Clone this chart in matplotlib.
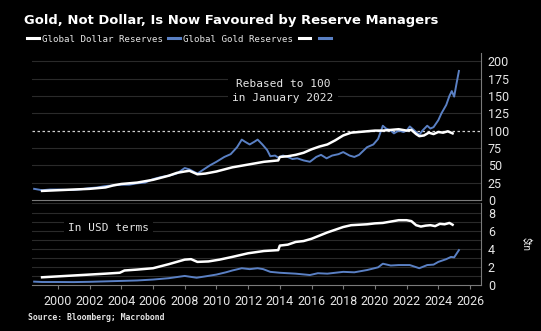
import matplotlib
matplotlib.use("Agg")
import matplotlib.pyplot as plt
from matplotlib.lines import Line2D

# Rebased series (January 2022 = 100)
dollar_idx_years = [1999.0, 1999.5, 2000.0, 2001.0, 2002.0, 2003.0, 2003.5, 2004.0, 2005.0, 2006.0,
                    2007.0, 2007.5, 2008.0, 2008.3, 2008.8, 2009.3, 2010.0, 2010.5, 2011.0, 2011.5,
                    2012.0, 2012.5, 2013.0, 2013.9, 2014.0, 2014.5, 2015.0, 2015.5, 2016.0, 2016.5,
                    2017.0, 2017.5, 2018.0, 2018.5, 2019.0, 2019.5, 2020.0, 2020.5, 2021.0, 2021.5,
                    2022.0, 2022.3, 2022.6, 2022.8, 2023.1, 2023.4, 2023.7, 2024.0, 2024.3, 2024.6,
                    2024.9]
dollar_idx = [13, 13.5, 14, 15, 16, 18, 21, 23, 25, 29,
              35, 39, 41, 42, 37, 38, 41, 44, 47, 49,
              51, 53, 55, 57, 62, 63, 65, 68, 73, 77,
              80, 86, 93, 97, 98, 99, 100, 100, 101, 102,
              100, 101, 95, 92, 93, 97, 95, 98, 97, 99,
              96]

gold_idx_years = [1998.5, 1999.0, 1999.5, 2000.0, 2000.5, 2001.0, 2001.5, 2002.0, 2002.5, 2003.0,
                  2003.5, 2004.0, 2004.5, 2005.0, 2005.5, 2006.0, 2006.5, 2007.0, 2007.5, 2008.0,
                  2008.3, 2008.8, 2009.2, 2009.6, 2010.0, 2010.5, 2010.9, 2011.3, 2011.6, 2011.8,
                  2012.1, 2012.4, 2012.6, 2012.9, 2013.2, 2013.4, 2013.7, 2013.9, 2014.2, 2014.5,
                  2014.8, 2015.1, 2015.5, 2015.9, 2016.3, 2016.6, 2016.95, 2017.3, 2017.7, 2018.0,
                  2018.4, 2018.7, 2019.0, 2019.5, 2019.9, 2020.2, 2020.5, 2020.7, 2021.0, 2021.2,
                  2021.5, 2021.8, 2022.0, 2022.2, 2022.5, 2022.8, 2023.0, 2023.3, 2023.5, 2023.7,
                  2024.0, 2024.2, 2024.5, 2024.7, 2024.85, 2025.0, 2025.15, 2025.3]
gold_idx = [16, 14, 15, 15, 14.5, 14.5, 15.5, 17, 18, 20,
            21, 22, 22, 24, 25, 30, 33, 35, 38, 46,
            44, 38, 44, 50, 55, 62, 66, 76, 87, 84,
            80, 84, 87, 80, 72, 63, 64, 61, 64, 62,
            59, 60, 57, 55, 62, 65, 60, 64, 66, 69,
            64, 62, 65, 76, 80, 88, 107, 103, 100, 96,
            100, 98, 100, 106, 100, 94, 100, 107, 103, 105,
            115, 125, 137, 150, 157, 149, 168, 186]

# Levels in USD trillions
dollar_usd_years = [1999.0, 2000.0, 2001.0, 2002.0, 2003.0, 2003.9, 2004.2, 2005.0, 2006.0, 2007.0,
                    2008.0, 2008.4, 2008.8, 2009.5, 2010.2, 2011.0, 2012.0, 2013.0, 2013.9, 2014.0,
                    2014.5, 2015.0, 2015.5, 2016.0, 2016.5, 2017.0, 2017.5, 2018.0, 2018.5, 2019.0,
                    2019.5, 2020.0, 2020.5, 2021.0, 2021.5, 2022.0, 2022.3, 2022.6, 2022.9, 2023.2,
                    2023.5, 2023.8, 2024.1, 2024.4, 2024.7, 2024.9]
dollar_usd = [0.85, 0.95, 1.05, 1.15, 1.25, 1.35, 1.6, 1.7, 1.85, 2.3,
              2.8, 2.85, 2.55, 2.6, 2.8, 3.1, 3.5, 3.75, 3.85, 4.35,
              4.45, 4.75, 4.85, 5.1, 5.45, 5.8, 6.1, 6.4, 6.6, 6.65,
              6.7, 6.8, 6.85, 7.0, 7.15, 7.15, 7.05, 6.6, 6.45, 6.55,
              6.6, 6.5, 6.75, 6.7, 6.85, 6.65]

gold_usd_years = [1998.5, 1999.0, 2000.0, 2001.0, 2002.0, 2003.0, 2004.0, 2005.0, 2006.0, 2007.0,
                  2008.0, 2008.75, 2009.3, 2010.0, 2010.6, 2011.0, 2011.6, 2012.1, 2012.6, 2012.95,
                  2013.4, 2014.0, 2014.5, 2015.0, 2015.9, 2016.4, 2017.0, 2018.0, 2018.7, 2019.5,
                  2020.2, 2020.5, 2021.0, 2021.5, 2022.2, 2022.8, 2023.3, 2023.7, 2024.0, 2024.5,
                  2024.8, 2025.0, 2025.3]
gold_usd = [0.37, 0.33, 0.33, 0.32, 0.35, 0.4, 0.45, 0.5, 0.6, 0.75,
            1.0, 0.8, 0.95, 1.15, 1.4, 1.6, 1.85, 1.75, 1.85, 1.75,
            1.45, 1.35, 1.3, 1.25, 1.1, 1.3, 1.25, 1.45, 1.4, 1.65,
            1.95, 2.35, 2.15, 2.2, 2.2, 1.85, 2.2, 2.25, 2.55, 2.85,
            3.1, 3.05, 3.85]

x_ticks = list(range(2000, 2027, 2))
idx_ticks = [0, 25, 50, 75, 100, 125, 150, 175, 200]
usd_ticks = [0, 2, 4, 6, 8]

BG = "black"
WHITE = "white"
BLUE = "#5a80c4"
GRID = "#2a2a2a"
SPINE = "#7a7a7a"
TXT = "#e6e6e6"
TICK_FONT = "Roboto"
MONO = "DejaVu Sans Mono"

fig = plt.figure(figsize=(5.41, 3.31), dpi=100, facecolor=BG)

ax1 = fig.add_axes([0.059, 0.396, 0.830, 0.444], facecolor=BG)
ax2 = fig.add_axes([0.059, 0.139, 0.830, 0.248], facecolor=BG)

xlim = (1998.36, 2026.69)

for ax in (ax1, ax2):
    ax.set_xlim(*xlim)
    for side in ("left", "top"):
        ax.spines[side].set_visible(False)
    for side in ("right", "bottom"):
        ax.spines[side].set_color(SPINE)
        ax.spines[side].set_linewidth(0.8)
    ax.yaxis.tick_right()
    ax.tick_params(axis="y", length=0, pad=5, labelcolor=TXT, labelsize=9)
    ax.set_axisbelow(True)

# Upper panel: rebased index
ax1.set_ylim(0, 212)
ax1.set_yticks(idx_ticks)
ax1.set_yticklabels([str(t) for t in idx_ticks], family=TICK_FONT)
ax1.set_xticks([])
for t in idx_ticks[1:]:
    if t != 100:
        ax1.axhline(t, color=GRID, lw=0.8, zorder=0)
ax1.axhline(100, color="#d0d0d0", lw=0.9, ls=(0, (2, 2)), zorder=1)
ax1.plot(gold_idx_years, gold_idx, color=BLUE, lw=1.4, zorder=3)
ax1.plot(dollar_idx_years, dollar_idx, color=WHITE, lw=1.8, zorder=4)
ax1.text(2014.2, 157, "Rebased to 100\nin January 2022", ha="center", va="center",
         color=TXT, fontsize=8, family=MONO, linespacing=1.45,
         bbox=dict(facecolor=BG, edgecolor="none", pad=3))

# Lower panel: USD trillions
ax2.set_ylim(0, 9.06)
ax2.set_yticks(usd_ticks)
ax2.set_yticklabels([str(t) for t in usd_ticks], family=TICK_FONT)
for t in range(1, 10):
    ax2.axhline(t, color=GRID, lw=0.8, zorder=0)
ax2.plot(gold_usd_years, gold_usd, color=BLUE, lw=1.4, zorder=3)
ax2.plot(dollar_usd_years, dollar_usd, color=WHITE, lw=1.8, zorder=4)
ax2.set_xticks(x_ticks)
ax2.set_xticklabels([str(t) for t in x_ticks], family=TICK_FONT)
ax2.tick_params(axis="x", length=3, color=SPINE, labelcolor=TXT, labelsize=9, pad=4)
ax2.text(2003.2, 6.3, "In USD terms", ha="center", va="center", color=TXT,
         fontsize=8, family=MONO, bbox=dict(facecolor=BG, edgecolor="none", pad=3))
ax2.text(1.10, 0.5, "$tn", transform=ax2.transAxes, rotation=270, ha="center",
         va="center", color=TXT, fontsize=7, family=TICK_FONT)

# Title, legend, source
fig.text(0.044, 0.938, "Gold, Not Dollar, Is Now Favoured by Reserve Managers",
         color=WHITE, fontsize=9.45, fontweight="bold", family="DejaVu Sans",
         ha="left", va="center")

handles = [Line2D([], [], color=WHITE, lw=2.2),
           Line2D([], [], color=BLUE, lw=2.2),
           Line2D([], [], color=WHITE, lw=2.2),
           Line2D([], [], color=BLUE, lw=2.2)]
labels = ["Global Dollar Reserves", "Global Gold Reserves", "", ""]
leg = fig.legend(handles, labels, loc="center left", bbox_to_anchor=(0.035, 0.882),
                 ncol=4, frameon=False, handlelength=1.3, handletextpad=0.3,
                 columnspacing=0.6, prop={"family": MONO, "size": 6.6})
for t in leg.get_texts():
    t.set_color(TXT)

fig.text(0.052, 0.04, "Source: Bloomberg; Macrobond", color=TXT, fontsize=5.9,
         fontweight="bold", family=MONO, ha="left", va="center")

fig.savefig("out.png", dpi=100, facecolor=BG)
